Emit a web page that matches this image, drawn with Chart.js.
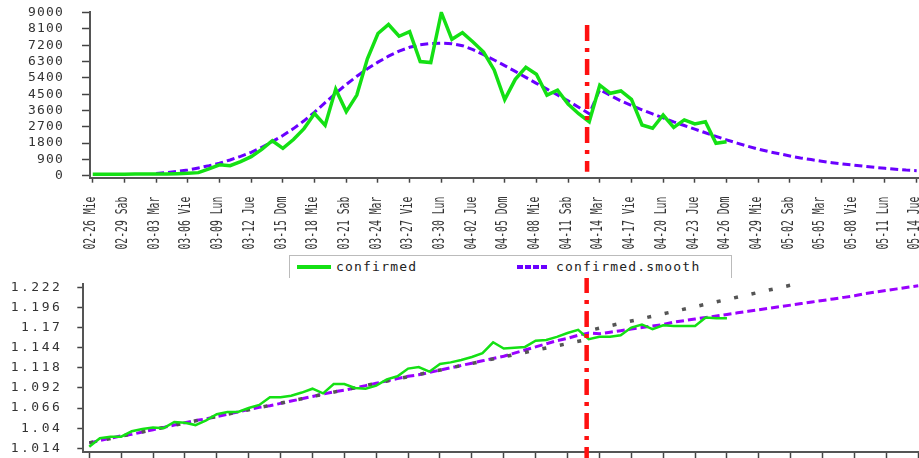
<!DOCTYPE html>
<html>
<head>
<meta charset="utf-8">
<script src="https://cdn.jsdelivr.net/npm/chart.js@4.4.1/dist/chart.umd.min.js"></script>
<style>
  html, body { margin: 0; padding: 0; background: #fff; }
  #wrap { position: relative; width: 919px; height: 458px; overflow: hidden; }
  #topChart { position: absolute; left: 0; top: 0; }
  #bottomChart { position: absolute; left: 0; top: 272px; }
  #legend {
    position: absolute; left: 289px; top: 255px; width: 441px; height: 22px;
    border: 1px solid #bbb; border-bottom: none; background: #fff; z-index: 2;
    font: 13px "DejaVu Sans Mono"; letter-spacing: 1.2px; color: #222;
  }
  #legend .sample { position: absolute; height: 3.5px; top: 9px; }
  #legend .txt { position: absolute; top: 4px; line-height: 13px; white-space: nowrap; }
</style>
</head>
<body>
<div id="wrap">
  <canvas id="topChart" width="919" height="255"></canvas>
  <div id="legend">
    <div class="sample" style="left:7px;width:34px;background:#14e014;"></div>
    <div class="txt" style="left:46px;">confirmed</div>
    <div class="sample" style="left:227px;width:30px;background:repeating-linear-gradient(to right,#6a00ff 0 6px,transparent 6px 8px);"></div>
    <div class="txt" style="left:266px;">confirmed.smooth</div>
  </div>
  <canvas id="bottomChart" width="919" height="186"></canvas>
</div>
<script>
// dates shown on the x axis (every 3rd one gets a label)
const dates = [
  '02-26 Mie','02-27 Jue','02-28 Vie','02-29 Sab','03-01 Dom','03-02 Lun','03-03 Mar',
  '03-04 Mie','03-05 Jue','03-06 Vie','03-07 Sab','03-08 Dom','03-09 Lun','03-10 Mar',
  '03-11 Mie','03-12 Jue','03-13 Vie','03-14 Sab','03-15 Dom','03-16 Lun','03-17 Mar',
  '03-18 Mie','03-19 Jue','03-20 Vie','03-21 Sab','03-22 Dom','03-23 Lun','03-24 Mar',
  '03-25 Mie','03-26 Jue','03-27 Vie','03-28 Sab','03-29 Dom','03-30 Lun','03-31 Mar',
  '04-01 Mie','04-02 Jue','04-03 Vie','04-04 Sab','04-05 Dom','04-06 Lun','04-07 Mar',
  '04-08 Mie','04-09 Jue','04-10 Vie','04-11 Sab','04-12 Dom','04-13 Lun','04-14 Mar',
  '04-15 Mie','04-16 Jue','04-17 Vie','04-18 Sab','04-19 Dom','04-20 Lun','04-21 Mar',
  '04-22 Mie','04-23 Jue','04-24 Vie','04-25 Sab','04-26 Dom','04-27 Lun','04-28 Mar',
  '04-29 Mie','04-30 Jue','05-01 Vie','05-02 Sab','05-03 Dom','05-04 Lun','05-05 Mar',
  '05-06 Mie','05-07 Jue','05-08 Vie','05-09 Sab','05-10 Dom','05-11 Lun','05-12 Mar',
  '05-13 Mie','05-14 Jue'
];
const labelEvery = 3;

// top panel: daily confirmed and the smoothed fit
const confirmed = [
  80, 80, 85, 85, 90, 90, 95, 100, 110, 130,
  170, 380, 600, 550, 780, 1050, 1450, 1930, 1510, 2000,
  2600, 3430, 2780, 4780, 3540, 4450, 6450, 7850, 8350, 7700,
  7950, 6300, 6250, 9000, 7530, 7900, 7380, 6830, 5840, 4200,
  5320, 5980, 5600, 4450, 4720, 3950, 3420, 2980, 5000, 4550,
  4680, 4220, 2800, 2620, 3350, 2670, 3080, 2860, 2980, 1790, 1880
];
const confirmedSmooth = [
  null, null, null, null, null, null, 120, 170, 240, 320,
  430, 550, 690, 870, 1070, 1290, 1570, 1880, 2220, 2600,
  3030, 3510, 4030, 4550, 5040, 5490, 5900, 6270, 6600, 6880,
  7090, 7230, 7300, 7320, 7290, 7180, 6960, 6680, 6390, 6080,
  5760, 5430, 5100, 4780, 4460, 4130, 3780, 3420, 4750, 4430,
  4130, 3880, 3640, 3410, 3190, 2970, 2770, 2570, 2370, 2170,
  1980, 1800, 1630, 1470, 1330, 1210, 1090, 980, 890, 800,
  720, 650, 590, 520, 460, 410, 360, 310, 280
];
const yTicksTop = [0, 900, 1800, 2700, 3600, 4500, 5400, 6300, 7200, 8100, 9000];

// bottom panel
const ratio = [
  1.016, 1.027, 1.029, 1.029, 1.036, 1.039, 1.041, 1.040, 1.048, 1.047,
  1.044, 1.050, 1.058, 1.061, 1.061, 1.066, 1.070, 1.080, 1.080, 1.082,
  1.086, 1.091, 1.085, 1.097, 1.097, 1.092, 1.091, 1.095, 1.103, 1.107,
  1.117, 1.119, 1.113, 1.123, 1.125, 1.128, 1.132, 1.137, 1.151, 1.143,
  1.144, 1.145, 1.153, 1.154, 1.158, 1.163, 1.167, 1.155, 1.158, 1.158,
  1.160, 1.170, 1.174, 1.168, 1.173, 1.172, 1.172, 1.172, 1.183, 1.182, 1.182
];
const ratioSmooth = [
  1.021, 1.024, 1.027, 1.030, 1.032, 1.035, 1.038, 1.041, 1.044, 1.047,
  1.050, 1.052, 1.055, 1.058, 1.061, 1.064, 1.067, 1.069, 1.072, 1.075,
  1.078, 1.081, 1.084, 1.087, 1.089, 1.092, 1.095, 1.098, 1.101, 1.104,
  1.107, 1.109, 1.112, 1.115, 1.118, 1.121, 1.124, 1.127, 1.130, 1.133,
  1.137, 1.141, 1.145, 1.149, 1.153, 1.156, 1.160, 1.163, 1.162, 1.164,
  1.166, 1.168, 1.170, 1.172, 1.174, 1.177, 1.179, 1.181, 1.183, 1.185,
  1.187, 1.189, 1.191, 1.193, 1.195, 1.197, 1.199, 1.201, 1.203, 1.205,
  1.207, 1.209, 1.211, 1.214, 1.216, 1.218, 1.220, 1.222, 1.224
];
const trendEarlyIdx = [0, 47];
const trendEarlyVal = [1.021, 1.155];
const trendLateIdx = [47.6, 67.2];
const trendLateVal = [1.168, 1.2285];
const yTicksBottom = [1.014, 1.04, 1.066, 1.092, 1.118, 1.144, 1.17, 1.196, 1.222];

// cut-off date (04-13)
const markerIndex = 46.8;

const toPoints = arr => arr.map((v, i) => ({x: i, y: v})).filter(p => p.y !== null);
const pairPoints = (xs, ys) => xs.map((x, i) => ({x: x, y: ys[i]}));
const tickIdx = dates.map((d, i) => i).filter(i => i % labelEvery === 0);

const axisColor = '#555';

// letter spacing for tick text
const spacingPlugin = {
  id: 'spacing',
  beforeDraw(chart, args, opts) { chart.ctx.letterSpacing = opts.value || '0px'; }
};

// narrow rotated date labels under the top panel
const dateLabelPlugin = {
  id: 'dateLabels',
  afterDraw(chart) {
    const ctx = chart.ctx, x = chart.scales.x;
    ctx.save();
    ctx.letterSpacing = '0px';
    ctx.font = '16px "DejaVu Sans Mono"';
    ctx.fillStyle = '#333';
    ctx.textAlign = 'right';
    ctx.textBaseline = 'middle';
    x.ticks.forEach(t => {
      const px = x.getPixelForValue(t.value);
      ctx.save();
      ctx.translate(px - 1.5, x.top + 19);
      ctx.rotate(-Math.PI / 2);
      ctx.scale(0.61, 1);
      ctx.fillText(dates[t.value], 0, 0);
      ctx.restore();
    });
    ctx.restore();
  }
};

const markerPlugin = {
  id: 'marker',
  afterDatasetsDraw(chart, args, opts) {
    const ctx = chart.ctx, area = chart.chartArea;
    const px = chart.scales.x.getPixelForValue(markerIndex);
    ctx.save();
    ctx.strokeStyle = '#ff1010';
    ctx.lineWidth = 4.5;
    ctx.setLineDash([16, 7, 4, 7]);
    ctx.beginPath();
    ctx.moveTo(px, area.top + opts.top);
    ctx.lineTo(px, area.bottom + opts.bottom);
    ctx.stroke();
    ctx.restore();
  }
};

function xScale(min, max, height, tickLen) {
  return {
    type: 'linear', min: min, max: max,
    afterBuildTicks: s => { s.ticks = tickIdx.map(v => ({value: v})); },
    afterFit: s => { s.height = height; s.paddingLeft = 0; s.paddingRight = 0; },
    ticks: {display: false},
    grid: {drawOnChartArea: false, tickLength: tickLen, tickColor: '#444', tickWidth: 1.5},
    border: {color: axisColor, width: 2}
  };
}

function yScale(min, max, list, width, tickLen, pad, size) {
  return {
    min: min, max: max,
    afterBuildTicks: s => { s.ticks = list.map(v => ({value: v})); },
    afterFit: s => { s.width = width; s.paddingTop = 0; s.paddingBottom = 0; },
    ticks: {
      autoSkip: false, padding: pad, color: '#333',
      font: {family: 'DejaVu Sans Mono', size: size},
      callback: v => String(v)
    },
    grid: {drawOnChartArea: false, tickLength: tickLen, tickColor: '#444', tickWidth: 1.5},
    border: {color: axisColor, width: 2}
  };
}

new Chart(document.getElementById('topChart'), {
  type: 'line',
  data: {
    datasets: [
      {label: 'confirmed', data: toPoints(confirmed), borderColor: '#14e014',
       borderWidth: 3.5, pointRadius: 0, tension: 0},
      {label: 'confirmed.smooth', data: toPoints(confirmedSmooth), borderColor: '#6a00ff',
       borderWidth: 3, borderDash: [8, 4], pointRadius: 0, tension: 0}
    ]
  },
  options: {
    responsive: false, animation: false, devicePixelRatio: 1,
    layout: {padding: {top: 11.7, left: 0, right: 0, bottom: 0}},
    plugins: {
      legend: {display: false}, tooltip: {enabled: false},
      spacing: {value: '1.2px'},
      marker: {top: 13.3, bottom: -6}
    },
    scales: {
      x: xScale(-0.26, 78.22, 77.3, 5),
      y: yScale(-110, 9055, yTicksTop, 90, 8, 18, 13)
    }
  },
  plugins: [spacingPlugin, dateLabelPlugin, markerPlugin]
});

new Chart(document.getElementById('bottomChart'), {
  type: 'line',
  data: {
    datasets: [
      {label: 'confirmed', data: toPoints(ratio), borderColor: '#14e014',
       borderWidth: 2.5, pointRadius: 0, tension: 0},
      {label: 'trend', data: pairPoints(trendEarlyIdx, trendEarlyVal), borderColor: '#555',
       borderWidth: 3.5, borderDash: [4, 13.8], pointRadius: 0},
      {label: 'trend2', data: pairPoints(trendLateIdx, trendLateVal), borderColor: '#555',
       borderWidth: 3.5, borderDash: [4, 13.8], pointRadius: 0, clip: false},
      {label: 'confirmed.smooth', data: toPoints(ratioSmooth), borderColor: '#9a00ff',
       borderWidth: 3, borderDash: [8, 4], pointRadius: 0, tension: 0}
    ]
  },
  options: {
    responsive: false, animation: false, devicePixelRatio: 1,
    layout: {padding: {top: 11.6, left: 0, right: 0, bottom: 0}},
    plugins: {
      legend: {display: false}, tooltip: {enabled: false},
      spacing: {value: '2.5px'},
      marker: {top: -6.6, bottom: 6.3}
    },
    scales: {
      x: xScale(-0.56, 78.07, 6.3, 6.3),
      y: yScale(1.0096, 1.2268, yTicksBottom, 83.3, 6, 15, 13)
    }
  },
  plugins: [spacingPlugin, markerPlugin]
});
</script>
</body>
</html>
